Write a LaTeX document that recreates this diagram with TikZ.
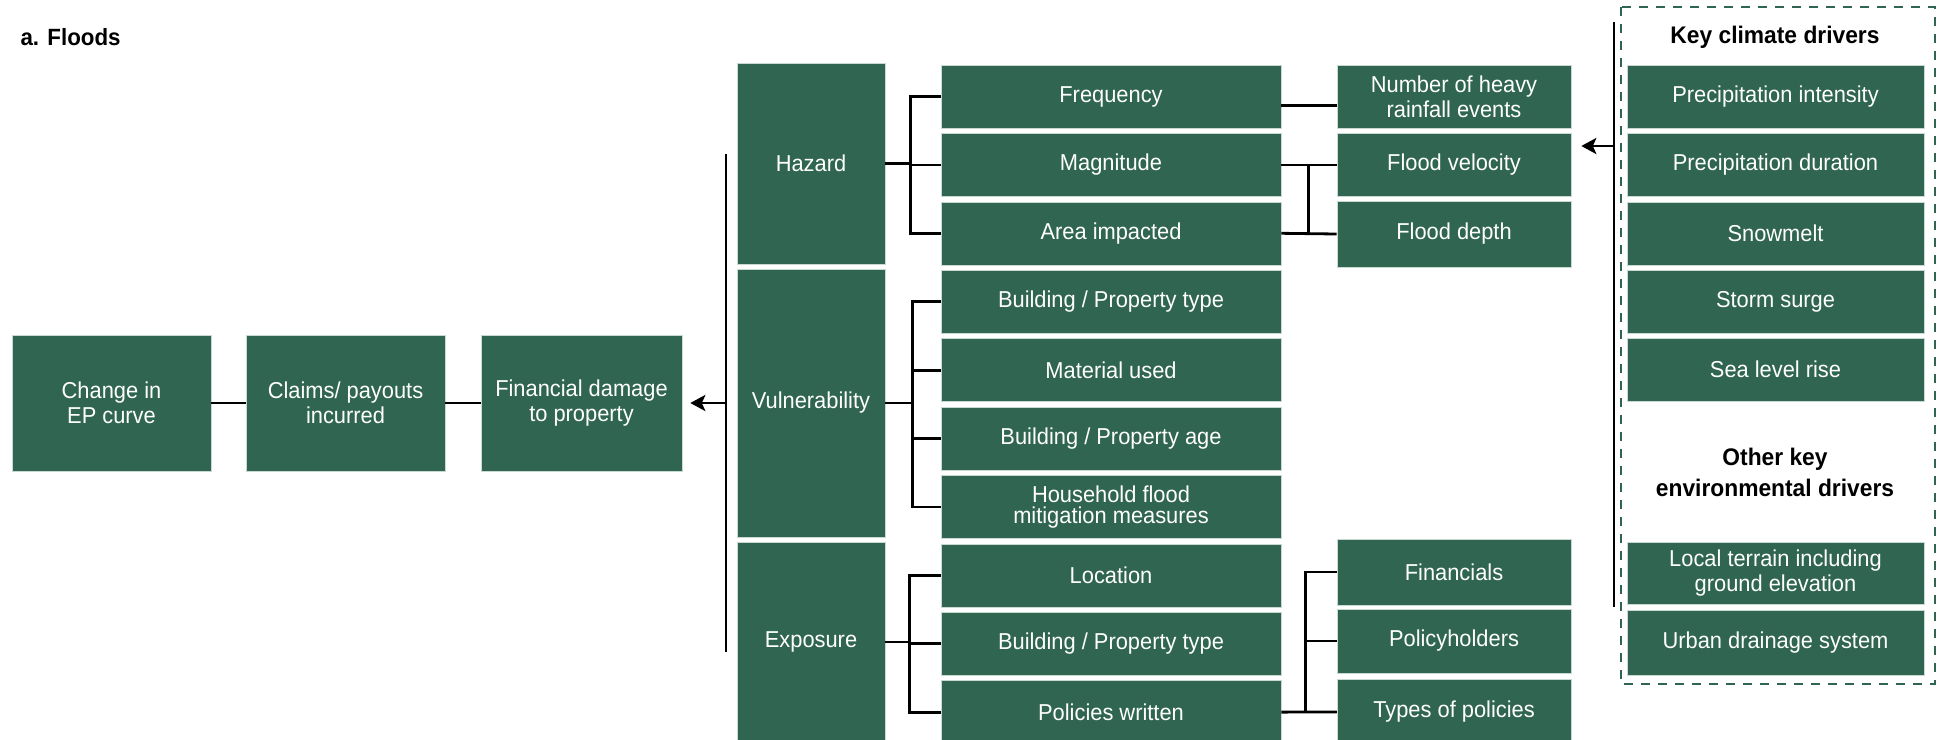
\documentclass[tikz,border=0pt]{standalone}
\usepackage{fontspec}
\setmainfont{Liberation Sans}[FakeStretch=0.95]
\usetikzlibrary{arrows.meta}
\definecolor{floodgreen}{HTML}{2F6551}
\definecolor{floodedge}{HTML}{C9D9D1}

\begin{document}
\begin{tikzpicture}[x=1pt,y=-1pt,
    box/.style={rectangle,fill=floodgreen,draw=floodedge,line width=0.6pt,text=white,align=center,inner sep=2pt,font=\fontsize{23}{25}\selectfont},
    chain/.style={box,minimum width=199pt,minimum height=136pt},
    pillar/.style={box,minimum width=148pt},
    factor/.style={box,minimum width=340pt,minimum height=63pt},
    detail/.style={box,minimum width=234pt,minimum height=63pt},
    driver/.style={box,minimum width=297pt,minimum height=63pt},
    link/.style={line width=2.8pt,black},
    tip/.style={-{Stealth[length=15pt,width=16pt,inset=3.5pt]}},
    head/.style={font=\bfseries\fontsize{24}{31}\selectfont,align=center}]
\clip (0,0) rectangle (1937,739);

\node[font=\bfseries\fontsize{23.5}{25}\selectfont,anchor=west] (title) at (17,37) {a. Floods};

% outcome chain
\node[chain] (ep) at (111.5,403) {Change in\\EP curve};
\node[chain] (cl) at (345.5,403) {Claims/ payouts\\incurred};
\node[chain,minimum width=201pt] (fin) at (581.5,403) {Financial damage\\to property};

% risk pillars
\node[pillar,minimum height=201pt] (hz) at (811,163.5) {Hazard};
\node[pillar,minimum height=268pt] (vu) at (811,403) {Vulnerability};
\node[pillar,minimum height=200pt] (ex) at (811,642) {Exposure};

% factors
\node[factor] (fq) at (1111,96.5) {Frequency};
\node[factor] (mg) at (1111,164.9) {Magnitude};
\node[factor] (ai) at (1111,233.3) {Area impacted};
\node[factor] (bt) at (1111,301.7) {Building / Property type};
\node[factor] (mu) at (1111,370.1) {Material used};
\node[factor] (ba) at (1111,438.5) {Building / Property age};
\node[factor,font=\fontsize{23}{21.5}\selectfont] (hm) at (1111,506.9) {Household flood\\mitigation measures};
\node[factor] (lo) at (1111,575.3) {Location};
\node[factor] (bx) at (1111,643.7) {Building / Property type};
\node[factor] (pw) at (1111,712.1) {Policies written};

% details
\node[detail] (nh) at (1454,96.5) {Number of heavy\\rainfall events};
\node[detail] (fv) at (1454,164.9) {Flood velocity};
\node[detail,minimum height=66pt] (fdp) at (1454,234) {Flood depth};
\node[detail,minimum height=66pt] (fi) at (1454,572) {Financials};
\node[detail,minimum height=64pt] (ph) at (1454,641) {Policyholders};
\node[detail,minimum height=66pt] (tp) at (1454,712) {Types of policies};

% drivers
\node[head] (keyclim) at (1775,37) {Key climate drivers};
\node[driver] (pi) at (1775.5,96.5) {Precipitation intensity};
\node[driver] (pd) at (1775.5,164.9) {Precipitation duration};
\node[driver] (sm) at (1775.5,233.3) {Snowmelt};
\node[driver] (ss) at (1775.5,301.7) {Storm surge};
\node[driver] (sl) at (1775.5,369.5) {Sea level rise};
\node[head] (otherkey) at (1775,472) {Other key\\environmental drivers};
\node[driver,minimum height=62pt] (lt) at (1775.5,573) {Local terrain including\\ground elevation};
\node[driver,minimum height=65pt] (ud) at (1775.5,642.5) {Urban drainage system};

\draw[floodgreen,line width=2.6pt,dash pattern=on 9pt off 8pt] (1621,7) rectangle (1935,684);

% connectors
\draw[link] (ep) -- (cl);
\draw[link] (cl) -- (fin);
\coordinate (trunktop) at (726,154);
\coordinate (trunkbot) at (726,652);
\draw[link] (trunktop) -- (trunkbot);
\draw[link,tip,shorten >=8pt] (trunktop |- fin) -- (fin.east);

\draw[link] (hz.east) -- ++(26,0);
\draw[link] (fq.west) -- ++(-30,0) |- (ai.west);
\draw[link] (mg.west) -- ++(-30,0);

\draw[link] (vu.east) -- ++(28,0);
\draw[link] (bt.west) -- ++(-28,0) |- (hm.west);
\draw[link] (mu.west) -- ++(-28,0);
\draw[link] (ba.west) -- ++(-28,0);

\draw[link] (ex.east) -- ++(25,0);
\draw[link] (lo.west) -- ++(-31,0) |- (pw.west);
\draw[link] (bx.west) -- ++(-31,0);

\draw[link] ([yshift=-9pt]fq.east) -- ([yshift=-9pt]nh.west);
\draw[link] (mg.east) -- (fv.west);
\draw[link] (ai.east) -- (fdp.west);
\draw[link] ([xshift=27pt]mg.east) -- ([xshift=27pt]ai.east);

\draw[link] (pw.east) -- (tp.west);
\draw[link] (fi.west) -- ++(-31,0) |- (tp.west);
\draw[link] (ph.west) -- ++(-31,0);

\coordinate (railtop) at (1614,22);
\coordinate (railbot) at (1614,607);
\coordinate (railarrow) at (1614,146);
\draw[link] (railtop) -- (railbot);
\draw[link,tip,shorten >=10pt] (railarrow) -- (railarrow -| fv.east);
\end{tikzpicture}
\end{document}
